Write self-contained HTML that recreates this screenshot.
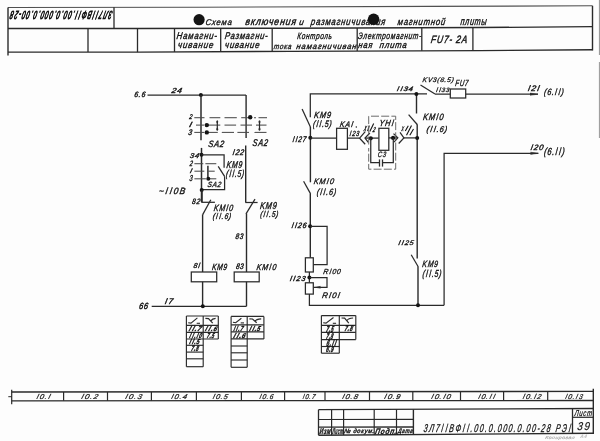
<!DOCTYPE html>
<html><head><meta charset="utf-8">
<style>
html,body{margin:0;padding:0;background:#fff;}
svg{display:block;will-change:transform;}
text{font-family:"Liberation Sans",sans-serif;}
</style></head>
<body>
<svg width="600" height="441" viewBox="0 0 600 441">
<rect width="600" height="441" fill="#fdfdfd"/>
<polyline points="8,7.5 200,7.2 430,6.4 592.5,5.8" fill="none" stroke="#505050" stroke-width="1.1" stroke-linejoin="miter" />
<polyline points="8,28.5 140,28.5 290,28.2 480,27.5 592.5,26.7" fill="none" stroke="#2a2a2a" stroke-width="1.35" stroke-linejoin="miter" />
<polyline points="8,52.1 140,52.1 290,51.4 480,50.6 592.5,49.8" fill="none" stroke="#2a2a2a" stroke-width="1.4" stroke-linejoin="miter" />
<line x1="8" y1="7.5" x2="8" y2="55.5" stroke="#2a2a2a" stroke-width="1.4" />
<line x1="592.5" y1="5.8" x2="592.5" y2="50.5" stroke="#2a2a2a" stroke-width="1.4" />
<line x1="114" y1="7.334375" x2="114" y2="28.5" stroke="#2a2a2a" stroke-width="1.3" />
<line x1="88" y1="28.5" x2="88" y2="52.1" stroke="#2a2a2a" stroke-width="1.3" />
<line x1="137.5" y1="28.5" x2="137.5" y2="52.1" stroke="#2a2a2a" stroke-width="1.3" />
<line x1="174.5" y1="28.431" x2="174.5" y2="51.939" stroke="#2a2a2a" stroke-width="1.3" />
<line x1="220.7" y1="28.3386" x2="220.7" y2="51.7234" stroke="#2a2a2a" stroke-width="1.3" />
<line x1="272.2" y1="28.235599999999998" x2="272.2" y2="51.483066666666666" stroke="#2a2a2a" stroke-width="1.3" />
<line x1="357.2" y1="27.95242105263158" x2="357.2" y2="51.11705263157895" stroke="#2a2a2a" stroke-width="1.3" />
<line x1="421.8" y1="27.71442105263158" x2="421.8" y2="50.845052631578945" stroke="#2a2a2a" stroke-width="1.3" />
<line x1="472.9" y1="27.52615789473684" x2="472.9" y2="50.629894736842104" stroke="#2a2a2a" stroke-width="1.3" />
<g transform="rotate(180 61.15 15.25) translate(9.20,19.42) scale(0.5980,1.1515) skewX(-25)"><text x="0" y="0" dx="0.00 0.00 0.00 0.70 1.40 0.70 0.00 0.70 1.40 0.70 0.00 0.00 0.00 0.00 0.00 0.00 0.00 0.00 0.00 0.00 0.00 0.00 0.00 0.00 0.00 0.00" font-size="10" font-weight="normal" font-style="italic" letter-spacing="1.8" fill="#111" stroke="#111" stroke-width="0.8">3Л7llВФll.00.0.000.0.00-28</text></g>
<circle cx="199.1" cy="19.7" r="5.6" fill="#141414"/>
<g transform="translate(205.22,24.79) scale(0.7731,0.8400) skewX(-10)"><text x="0" y="0"  font-size="10" font-weight="normal" font-style="italic" letter-spacing="1.0" fill="#111" stroke="#111" stroke-width="0.4">Схема</text></g>
<g transform="translate(245.00,25.24) scale(0.8800,1.0435) skewX(-10)"><text x="0" y="0"  font-size="10" font-weight="normal" font-style="italic" letter-spacing="1.0" fill="#111" stroke="#111" stroke-width="0.4">включения</text></g>
<g transform="translate(298.78,25.08) scale(0.8333,0.8696) skewX(-10)"><text x="0" y="0"  font-size="10" font-weight="normal" font-style="italic" letter-spacing="1.0" fill="#111" stroke="#111" stroke-width="0.4">и</text></g>
<g transform="translate(310.58,25.04) scale(0.7794,1.0065) skewX(-10)"><text x="0" y="0"  font-size="10" font-weight="normal" font-style="italic" letter-spacing="1.0" fill="#111" stroke="#111" stroke-width="0.4">размагничивания</text></g>
<circle cx="373.6" cy="19.3" r="5.8" fill="#141414"/>
<g transform="translate(397.30,24.56) scale(0.7760,0.9677) skewX(-10)"><text x="0" y="0"  font-size="10" font-weight="normal" font-style="italic" letter-spacing="1.0" fill="#111" stroke="#111" stroke-width="0.4">магнитной</text></g>
<g transform="translate(460.20,24.53) scale(0.7195,1.0957) skewX(-10)"><text x="0" y="0"  font-size="10" font-weight="normal" font-style="italic" letter-spacing="1.0" fill="#111" stroke="#111" stroke-width="0.4">плиты</text></g>
<g transform="translate(176.20,39.16) scale(0.7846,0.9793) skewX(-10)"><text x="0" y="0"  font-size="10" font-weight="normal" font-style="italic" letter-spacing="1.0" fill="#111" stroke="#111" stroke-width="0.4">Намагни-</text></g>
<g transform="translate(177.49,47.51) scale(0.8092,0.9478) skewX(-10)"><text x="0" y="0"  font-size="10" font-weight="normal" font-style="italic" letter-spacing="1.0" fill="#111" stroke="#111" stroke-width="0.4">чивание</text></g>
<g transform="translate(224.50,39.16) scale(0.7630,0.9793) skewX(-10)"><text x="0" y="0"  font-size="10" font-weight="normal" font-style="italic" letter-spacing="1.0" fill="#111" stroke="#111" stroke-width="0.4">Размагни-</text></g>
<g transform="translate(224.51,47.51) scale(0.7908,0.9478) skewX(-10)"><text x="0" y="0"  font-size="10" font-weight="normal" font-style="italic" letter-spacing="1.0" fill="#111" stroke="#111" stroke-width="0.4">чивание</text></g>
<g transform="translate(297.00,38.93) scale(0.6444,0.9189) skewX(-10)"><text x="0" y="0"  font-size="10" font-weight="normal" font-style="italic" letter-spacing="1.0" fill="#111" stroke="#111" stroke-width="0.4">Контроль</text></g>
<g transform="translate(273.50,48.80) scale(0.6545,0.7826) skewX(-10)"><text x="0" y="0"  font-size="10" font-weight="normal" font-style="italic" letter-spacing="1.0" fill="#111" stroke="#111" stroke-width="0.4">тока</text></g>
<g transform="translate(296.00,48.80) scale(0.7796,0.8174) skewX(-10)"><text x="0" y="0"  font-size="10" font-weight="normal" font-style="italic" letter-spacing="1.0" fill="#111" stroke="#111" stroke-width="0.4">намагничиван</text></g>
<g transform="translate(357.83,38.87) scale(0.6628,0.9474) skewX(-10)"><text x="0" y="0"  font-size="10" font-weight="normal" font-style="italic" letter-spacing="1.0" fill="#111" stroke="#111" stroke-width="0.4">Электромагнит-</text></g>
<g transform="translate(358.00,47.77) scale(0.7636,0.9217) skewX(-10)"><text x="0" y="0"  font-size="10" font-weight="normal" font-style="italic" letter-spacing="1.0" fill="#111" stroke="#111" stroke-width="0.4">ная</text></g>
<g transform="translate(379.30,47.77) scale(0.7885,0.9217) skewX(-10)"><text x="0" y="0"  font-size="10" font-weight="normal" font-style="italic" letter-spacing="1.0" fill="#111" stroke="#111" stroke-width="0.4">плита</text></g>
<g transform="translate(430.50,42.73) scale(0.8421,1.0667) skewX(-10)"><text x="0" y="0"  font-size="10" font-weight="normal" font-style="italic" letter-spacing="1.0" fill="#111" stroke="#111" stroke-width="0.4">FU7- 2A</text></g>
<line x1="147.5" y1="95" x2="246" y2="95" stroke="#2a2a2a" stroke-width="1.25" />
<circle cx="200.9" cy="95" r="2.0" fill="#141414"/>
<g transform="translate(133.98,96.61) scale(0.6970,0.7742) skewX(-10)"><text x="0" y="0"  font-size="10" font-weight="normal" font-style="italic" letter-spacing="1.0" fill="#111" stroke="#111" stroke-width="0.5">6.6</text></g>
<g transform="translate(171.21,92.82) scale(0.8519,0.7333) skewX(-10)"><text x="0" y="0"  font-size="10" font-weight="normal" font-style="italic" letter-spacing="1.0" fill="#111" stroke="#111" stroke-width="0.5">24</text></g>
<line x1="201" y1="95" x2="201" y2="140.3" stroke="#2a2a2a" stroke-width="1.5" />
<line x1="246.1" y1="95" x2="246.1" y2="138" stroke="#2a2a2a" stroke-width="1.4" />
<line x1="194.3" y1="117.7" x2="204.5" y2="117.7" stroke="#4a4a4a" stroke-width="1.05" />
<line x1="209.5" y1="117.7" x2="220.3" y2="117.7" stroke="#4a4a4a" stroke-width="1.05" />
<line x1="224.5" y1="117.7" x2="236.8" y2="117.7" stroke="#4a4a4a" stroke-width="1.05" />
<line x1="241.2" y1="117.7" x2="252" y2="117.7" stroke="#4a4a4a" stroke-width="1.05" />
<line x1="254" y1="117.7" x2="256" y2="117.7" stroke="#4a4a4a" stroke-width="1.05" />
<line x1="258.5" y1="117.7" x2="267" y2="117.7" stroke="#4a4a4a" stroke-width="1.05" />
<line x1="196" y1="125.1" x2="204.2" y2="125.1" stroke="#4a4a4a" stroke-width="1.05" />
<line x1="205" y1="125.1" x2="220.3" y2="125.1" stroke="#4a4a4a" stroke-width="1.05" />
<line x1="224.5" y1="125.1" x2="236.1" y2="125.1" stroke="#4a4a4a" stroke-width="1.05" />
<line x1="240.5" y1="125.1" x2="252" y2="125.1" stroke="#4a4a4a" stroke-width="1.05" />
<line x1="256" y1="125.1" x2="266.5" y2="125.1" stroke="#4a4a4a" stroke-width="1.05" />
<line x1="194.3" y1="132.4" x2="204.2" y2="132.4" stroke="#4a4a4a" stroke-width="1.05" />
<line x1="207" y1="132.4" x2="217.8" y2="132.4" stroke="#4a4a4a" stroke-width="1.05" />
<line x1="221.8" y1="132.4" x2="234" y2="132.4" stroke="#4a4a4a" stroke-width="1.05" />
<line x1="237.4" y1="132.4" x2="249" y2="132.4" stroke="#4a4a4a" stroke-width="1.05" />
<line x1="254.5" y1="132.4" x2="266.5" y2="132.4" stroke="#4a4a4a" stroke-width="1.05" />
<g transform="translate(188.94,119.33) scale(0.5630,0.6800) skewX(-10)"><text x="0" y="0"  font-size="10" font-weight="normal" font-style="italic" letter-spacing="1.0" fill="#111" stroke="#111" stroke-width="0.5">2</text></g>
<g transform="translate(188.32,126.52) scale(0.9647,0.7097) skewX(-10)"><text x="0" y="0" dx="0.70" font-size="10" font-weight="normal" font-style="italic" letter-spacing="1.0" fill="#111" stroke="#111" stroke-width="0.5">l</text></g>
<g transform="translate(188.03,135.30) scale(0.6769,0.8133) skewX(-10)"><text x="0" y="0"  font-size="10" font-weight="normal" font-style="italic" letter-spacing="1.0" fill="#111" stroke="#111" stroke-width="0.5">3</text></g>
<circle cx="206.8" cy="125.1" r="2.2" fill="#141414"/>
<circle cx="206.8" cy="132.4" r="2.2" fill="#141414"/>
<circle cx="250.2" cy="117.2" r="2.2" fill="#141414"/>
<line x1="217.3" y1="121" x2="217.3" y2="129.8" stroke="#2a2a2a" stroke-width="1.2" />
<ellipse cx="217.3" cy="121.8" rx="0.9" ry="1.6" fill="#2a2a2a"/>
<ellipse cx="217.3" cy="129.2" rx="0.9" ry="1.6" fill="#2a2a2a"/>
<line x1="259.5" y1="121" x2="259.5" y2="129.8" stroke="#2a2a2a" stroke-width="1.2" />
<ellipse cx="259.5" cy="121.8" rx="0.9" ry="1.6" fill="#2a2a2a"/>
<ellipse cx="259.5" cy="129.2" rx="0.9" ry="1.6" fill="#2a2a2a"/>
<g transform="translate(207.91,147.07) scale(0.7581,0.9200) skewX(-10)"><text x="0" y="0"  font-size="10" font-weight="normal" font-style="italic" letter-spacing="1.0" fill="#111" stroke="#111" stroke-width="0.4">SA2</text></g>
<g transform="translate(252.32,145.56) scale(0.7256,0.9733) skewX(-10)"><text x="0" y="0"  font-size="10" font-weight="normal" font-style="italic" letter-spacing="1.0" fill="#111" stroke="#111" stroke-width="0.4">SA2</text></g>
<g transform="translate(231.95,154.60) scale(0.7014,0.8129) skewX(-10)"><text x="0" y="0" dx="0.70 0.70 0.00" font-size="10" font-weight="normal" font-style="italic" letter-spacing="1.0" fill="#111" stroke="#111" stroke-width="0.5">l22</text></g>
<line x1="245.7" y1="145.4" x2="245.7" y2="202.5" stroke="#2a2a2a" stroke-width="1.4" />
<line x1="201.5" y1="147.9" x2="201.5" y2="202" stroke="#2a2a2a" stroke-width="1.5" />
<circle cx="201.5" cy="154.8" r="2.0" fill="#141414"/>
<g transform="translate(189.51,157.73) scale(0.7615,0.6933) skewX(-10)"><text x="0" y="0"  font-size="10" font-weight="normal" font-style="italic" letter-spacing="1.0" fill="#111" stroke="#111" stroke-width="0.5">34</text></g>
<polyline points="201.5,154.8 224.1,154.8 224.1,167.8" fill="none" stroke="#2a2a2a" stroke-width="1.25" stroke-linejoin="miter" />
<line x1="218.2" y1="166.3" x2="224.6" y2="176.4" stroke="#2a2a2a" stroke-width="1.25" />
<polyline points="224.6,176.2 224.6,189.6 201.5,189.6" fill="none" stroke="#2a2a2a" stroke-width="1.25" stroke-linejoin="miter" />
<circle cx="201.7" cy="189.9" r="2.0" fill="#141414"/>
<line x1="194.4" y1="163.7" x2="203.3" y2="163.7" stroke="#4a4a4a" stroke-width="1.05" />
<line x1="205.4" y1="163.7" x2="216.3" y2="163.7" stroke="#4a4a4a" stroke-width="1.05" />
<line x1="194.4" y1="171.2" x2="204.3" y2="171.2" stroke="#4a4a4a" stroke-width="1.05" />
<line x1="208.5" y1="171.2" x2="214.7" y2="171.2" stroke="#4a4a4a" stroke-width="1.05" />
<line x1="194.4" y1="178.8" x2="205.9" y2="178.8" stroke="#4a4a4a" stroke-width="1.05" />
<line x1="210" y1="178.8" x2="216.3" y2="178.8" stroke="#4a4a4a" stroke-width="1.05" />
<g transform="translate(189.44,166.41) scale(0.5481,0.7733) skewX(-10)"><text x="0" y="0"  font-size="10" font-weight="normal" font-style="italic" letter-spacing="1.0" fill="#111" stroke="#111" stroke-width="0.5">2</text></g>
<g transform="translate(189.20,172.84) scale(0.8000,0.6323) skewX(-10)"><text x="0" y="0" dx="0.70" font-size="10" font-weight="normal" font-style="italic" letter-spacing="1.0" fill="#111" stroke="#111" stroke-width="0.5">l</text></g>
<g transform="translate(189.16,181.29) scale(0.5692,0.8533) skewX(-10)"><text x="0" y="0"  font-size="10" font-weight="normal" font-style="italic" letter-spacing="1.0" fill="#111" stroke="#111" stroke-width="0.5">3</text></g>
<line x1="207.9" y1="165.7" x2="207.9" y2="178.8" stroke="#2a2a2a" stroke-width="1.5" />
<circle cx="208.3" cy="178.8" r="2.0" fill="#141414"/>
<g transform="translate(207.24,186.91) scale(0.6558,0.7600) skewX(-10)"><text x="0" y="0"  font-size="10" font-weight="normal" font-style="italic" letter-spacing="1.0" fill="#111" stroke="#111" stroke-width="0.4">SA2</text></g>
<g transform="translate(226.20,168.35) scale(0.6979,0.9867) skewX(-10)"><text x="0" y="0"  font-size="10" font-weight="normal" font-style="italic" letter-spacing="1.0" fill="#111" stroke="#111" stroke-width="0.4">KM9</text></g>
<g transform="translate(225.87,177.26) scale(0.6569,0.9949) skewX(-10)"><text x="0" y="0" dx="0.00 0.70 1.40 0.70 0.00 0.00" font-size="10" font-weight="normal" font-style="italic" letter-spacing="1.0" fill="#111" stroke="#111" stroke-width="0.4">(ll.5)</text></g>
<g transform="translate(158.57,193.77) scale(0.8352,0.9032) skewX(-10)"><text x="0" y="0" dx="0.00 0.70 1.40 0.70 0.00" font-size="10" font-weight="normal" font-style="italic" letter-spacing="1.5" fill="#111" stroke="#111" stroke-width="0.4">~ll0В</text></g>
<g transform="translate(191.84,204.11) scale(0.6538,0.7742) skewX(-10)"><text x="0" y="0"  font-size="10" font-weight="normal" font-style="italic" letter-spacing="1.0" fill="#111" stroke="#111" stroke-width="0.5">82</text></g>
<line x1="202" y1="189.9" x2="202" y2="202.3" stroke="#2a2a2a" stroke-width="1.5" />
<line x1="201.3" y1="202.3" x2="214.9" y2="202.3" stroke="#2a2a2a" stroke-width="1.25" />
<line x1="210.8" y1="199.7" x2="202.7" y2="214.6" stroke="#2a2a2a" stroke-width="1.25" />
<line x1="202.6" y1="214.4" x2="202.6" y2="306.3" stroke="#2a2a2a" stroke-width="1.4" />
<g transform="translate(213.50,211.07) scale(0.7115,0.9161) skewX(-10)"><text x="0" y="0" dx="0.00 0.00 0.70 0.70" font-size="10" font-weight="normal" font-style="italic" letter-spacing="1.0" fill="#111" stroke="#111" stroke-width="0.4">KMl0</text></g>
<g transform="translate(212.46,219.31) scale(0.6752,0.8410) skewX(-10)"><text x="0" y="0" dx="0.00 0.70 1.40 0.70 0.00 0.00" font-size="10" font-weight="normal" font-style="italic" letter-spacing="1.0" fill="#111" stroke="#111" stroke-width="0.4">(ll.6)</text></g>
<line x1="245.4" y1="202.5" x2="257.6" y2="202.5" stroke="#2a2a2a" stroke-width="1.25" />
<line x1="255" y1="199.1" x2="246" y2="213.8" stroke="#2a2a2a" stroke-width="1.25" />
<line x1="246.5" y1="213.6" x2="246.5" y2="306.3" stroke="#2a2a2a" stroke-width="1.4" />
<g transform="translate(259.70,208.65) scale(0.7404,1.0000) skewX(-10)"><text x="0" y="0"  font-size="10" font-weight="normal" font-style="italic" letter-spacing="1.0" fill="#111" stroke="#111" stroke-width="0.4">KM9</text></g>
<g transform="translate(259.97,217.48) scale(0.6606,0.8513) skewX(-10)"><text x="0" y="0" dx="0.00 0.70 1.40 0.70 0.00 0.00" font-size="10" font-weight="normal" font-style="italic" letter-spacing="1.0" fill="#111" stroke="#111" stroke-width="0.4">(ll.5)</text></g>
<g transform="translate(235.34,238.80) scale(0.6308,0.8000) skewX(-10)"><text x="0" y="0"  font-size="10" font-weight="normal" font-style="italic" letter-spacing="1.0" fill="#111" stroke="#111" stroke-width="0.5">83</text></g>
<rect x="191.3" y="272" width="25.399999999999977" height="9.800000000000011" fill="#fff" stroke="#2a2a2a" stroke-width="1.25" />
<rect x="234.2" y="272" width="25.0" height="9.800000000000011" fill="#fff" stroke="#2a2a2a" stroke-width="1.25" />
<g transform="translate(193.13,267.94) scale(0.6818,0.7250) skewX(-10)"><text x="0" y="0" dx="0.00 0.70" font-size="10" font-weight="normal" font-style="italic" letter-spacing="1.0" fill="#111" stroke="#111" stroke-width="0.5">8l</text></g>
<g transform="translate(211.70,269.78) scale(0.6723,0.8933) skewX(-10)"><text x="0" y="0"  font-size="10" font-weight="normal" font-style="italic" letter-spacing="1.0" fill="#111" stroke="#111" stroke-width="0.4">KM9</text></g>
<g transform="translate(235.64,268.80) scale(0.6462,0.8000) skewX(-10)"><text x="0" y="0"  font-size="10" font-weight="normal" font-style="italic" letter-spacing="1.0" fill="#111" stroke="#111" stroke-width="0.5">83</text></g>
<g transform="translate(256.30,269.78) scale(0.7221,0.8645) skewX(-10)"><text x="0" y="0" dx="0.00 0.00 0.70 0.70" font-size="10" font-weight="normal" font-style="italic" letter-spacing="1.0" fill="#111" stroke="#111" stroke-width="0.4">KMl0</text></g>
<line x1="151.7" y1="306.3" x2="246.5" y2="306.3" stroke="#2a2a2a" stroke-width="1.25" />
<circle cx="202.8" cy="306.3" r="2.0" fill="#141414"/>
<g transform="translate(138.64,309.25) scale(0.7490,0.8903) skewX(-10)"><text x="0" y="0"  font-size="10" font-weight="normal" font-style="italic" letter-spacing="1.0" fill="#111" stroke="#111" stroke-width="0.5">66</text></g>
<g transform="translate(164.18,303.60) scale(0.8348,0.8000) skewX(-10)"><text x="0" y="0" dx="0.70 0.70" font-size="10" font-weight="normal" font-style="italic" letter-spacing="1.0" fill="#111" stroke="#111" stroke-width="0.5">l7</text></g>
<line x1="186.4" y1="316.0" x2="218.3" y2="316.0" stroke="#2a2a2a" stroke-width="1.15" />
<line x1="186.4" y1="316.0" x2="186.4" y2="366.7" stroke="#2a2a2a" stroke-width="1.15" />
<line x1="203.2" y1="316.0" x2="203.2" y2="366.7" stroke="#2a2a2a" stroke-width="1.15" />
<line x1="218.3" y1="316.0" x2="218.3" y2="339" stroke="#2a2a2a" stroke-width="1.15" />
<line x1="186.4" y1="325.3" x2="218.3" y2="325.3" stroke="#2a2a2a" stroke-width="1.15" />
<line x1="186.4" y1="332.3" x2="218.3" y2="332.3" stroke="#2a2a2a" stroke-width="1.15" />
<line x1="186.4" y1="339" x2="218.3" y2="339" stroke="#2a2a2a" stroke-width="1.15" />
<line x1="186.4" y1="345.3" x2="203.2" y2="345.3" stroke="#2a2a2a" stroke-width="1.15" />
<line x1="186.4" y1="352.1" x2="203.2" y2="352.1" stroke="#2a2a2a" stroke-width="1.15" />
<line x1="186.4" y1="358.8" x2="203.2" y2="358.8" stroke="#2a2a2a" stroke-width="1.15" />
<line x1="186.4" y1="366.7" x2="203.2" y2="366.7" stroke="#2a2a2a" stroke-width="1.15" />
<polyline points="188.20000000000002,322.7 191.0,323.1 197.39999999999998,317.9" fill="none" stroke="#2a2a2a" stroke-width="1.15" stroke-linejoin="miter" />
<line x1="196.7" y1="323.3" x2="200.0" y2="323.3" stroke="#2a2a2a" stroke-width="1.1" />
<path d="M205.39999999999998,318.4 L208.5,318.6 L212.7,323.2 M210.89999999999998,320.9 Q212.2,318.6 215.60000000000002,318.4" fill="none" stroke="#2a2a2a" stroke-width="1.2"/>
<g transform="translate(187.98,331.13) scale(0.6330,0.6839) skewX(-22)"><text x="0" y="0" dx="0.70 1.40 0.70 0.00" font-size="10" font-weight="bold" font-style="italic" letter-spacing="1.0" fill="#111" stroke="#111" stroke-width="0.55">ll.7</text></g>
<g transform="translate(204.40,330.97) scale(0.6069,0.6625) skewX(-22)"><text x="0" y="0" dx="0.70 1.40 0.70 0.00" font-size="10" font-weight="bold" font-style="italic" letter-spacing="1.0" fill="#111" stroke="#111" stroke-width="0.55">ll.6</text></g>
<g transform="translate(188.64,337.92) scale(0.5159,0.7226) skewX(-22)"><text x="0" y="0" dx="0.70 1.40 0.70 0.70 0.70" font-size="10" font-weight="bold" font-style="italic" letter-spacing="1.0" fill="#111" stroke="#111" stroke-width="0.55">ll.l0</text></g>
<g transform="translate(206.47,337.91) scale(0.4595,0.7467) skewX(-22)"><text x="0" y="0"  font-size="10" font-weight="bold" font-style="italic" letter-spacing="1.0" fill="#111" stroke="#111" stroke-width="0.55">7.5</text></g>
<g transform="translate(188.64,344.44) scale(0.5289,0.7125) skewX(-22)"><text x="0" y="0" dx="0.70 1.40 0.70 0.00" font-size="10" font-weight="bold" font-style="italic" letter-spacing="1.0" fill="#111" stroke="#111" stroke-width="0.55">ll.5</text></g>
<g transform="translate(190.66,350.81) scale(0.4722,0.7871) skewX(-22)"><text x="0" y="0"  font-size="10" font-weight="bold" font-style="italic" letter-spacing="1.0" fill="#111" stroke="#111" stroke-width="0.55">7.8</text></g>
<line x1="231.1" y1="316.4" x2="263.9" y2="316.4" stroke="#2a2a2a" stroke-width="1.15" />
<line x1="231.1" y1="316.4" x2="231.1" y2="367.3" stroke="#2a2a2a" stroke-width="1.15" />
<line x1="247.2" y1="316.4" x2="247.2" y2="367.3" stroke="#2a2a2a" stroke-width="1.15" />
<line x1="263.9" y1="316.4" x2="263.9" y2="338.9" stroke="#2a2a2a" stroke-width="1.15" />
<line x1="231.1" y1="324.9" x2="263.9" y2="324.9" stroke="#2a2a2a" stroke-width="1.15" />
<line x1="231.1" y1="331.8" x2="263.9" y2="331.8" stroke="#2a2a2a" stroke-width="1.15" />
<line x1="231.1" y1="338.9" x2="263.9" y2="338.9" stroke="#2a2a2a" stroke-width="1.15" />
<line x1="231.1" y1="346" x2="247.2" y2="346" stroke="#2a2a2a" stroke-width="1.15" />
<line x1="231.1" y1="352.8" x2="247.2" y2="352.8" stroke="#2a2a2a" stroke-width="1.15" />
<line x1="231.1" y1="360" x2="247.2" y2="360" stroke="#2a2a2a" stroke-width="1.15" />
<line x1="231.1" y1="367.3" x2="247.2" y2="367.3" stroke="#2a2a2a" stroke-width="1.15" />
<polyline points="232.9,322.29999999999995 235.7,322.7 241.39999999999998,318.29999999999995" fill="none" stroke="#2a2a2a" stroke-width="1.15" stroke-linejoin="miter" />
<line x1="240.7" y1="322.9" x2="244.0" y2="322.9" stroke="#2a2a2a" stroke-width="1.1" />
<path d="M249.39999999999998,318.79999999999995 L252.5,319.0 L256.7,322.79999999999995 M254.89999999999998,321.29999999999995 Q256.2,319.0 261.2,318.79999999999995" fill="none" stroke="#2a2a2a" stroke-width="1.2"/>
<g transform="translate(232.95,331.22) scale(0.4967,0.7355) skewX(-22)"><text x="0" y="0" dx="0.70 1.40 0.70 0.00" font-size="10" font-weight="bold" font-style="italic" letter-spacing="1.0" fill="#111" stroke="#111" stroke-width="0.55">ll.7</text></g>
<g transform="translate(248.62,331.04) scale(0.5644,0.7125) skewX(-22)"><text x="0" y="0" dx="0.70 1.40 0.70 0.00" font-size="10" font-weight="bold" font-style="italic" letter-spacing="1.0" fill="#111" stroke="#111" stroke-width="0.55">ll.5</text></g>
<g transform="translate(232.59,338.15) scale(0.6161,0.7000) skewX(-22)"><text x="0" y="0" dx="0.70 1.40 0.70 0.00" font-size="10" font-weight="bold" font-style="italic" letter-spacing="1.0" fill="#111" stroke="#111" stroke-width="0.55">ll.6</text></g>
<line x1="321.4" y1="315.6" x2="355.8" y2="315.6" stroke="#2a2a2a" stroke-width="1.15" />
<line x1="321.4" y1="315.6" x2="321.4" y2="353.2" stroke="#2a2a2a" stroke-width="1.15" />
<line x1="339.3" y1="315.6" x2="339.3" y2="353.2" stroke="#2a2a2a" stroke-width="1.15" />
<line x1="355.8" y1="315.6" x2="355.8" y2="339.6" stroke="#2a2a2a" stroke-width="1.15" />
<line x1="321.4" y1="325.3" x2="355.8" y2="325.3" stroke="#2a2a2a" stroke-width="1.15" />
<line x1="321.4" y1="332.4" x2="355.8" y2="332.4" stroke="#2a2a2a" stroke-width="1.15" />
<line x1="321.4" y1="339.6" x2="355.8" y2="339.6" stroke="#2a2a2a" stroke-width="1.15" />
<line x1="321.4" y1="346.5" x2="339.3" y2="346.5" stroke="#2a2a2a" stroke-width="1.15" />
<line x1="321.4" y1="353.2" x2="339.3" y2="353.2" stroke="#2a2a2a" stroke-width="1.15" />
<polyline points="323.2,322.7 326.0,323.1 333.5,317.5" fill="none" stroke="#2a2a2a" stroke-width="1.15" stroke-linejoin="miter" />
<line x1="332.8" y1="323.3" x2="336.1" y2="323.3" stroke="#2a2a2a" stroke-width="1.1" />
<path d="M341.5,318.0 L344.6,318.20000000000005 L348.8,323.2 M347.0,320.5 Q348.3,318.20000000000005 353.1,318.0" fill="none" stroke="#2a2a2a" stroke-width="1.2"/>
<g transform="translate(325.77,331.69) scale(0.4595,0.8533) skewX(-22)"><text x="0" y="0"  font-size="10" font-weight="bold" font-style="italic" letter-spacing="1.0" fill="#111" stroke="#111" stroke-width="0.55">7.5</text></g>
<g transform="translate(344.25,331.49) scale(0.5000,0.8258) skewX(-22)"><text x="0" y="0"  font-size="10" font-weight="bold" font-style="italic" letter-spacing="1.0" fill="#111" stroke="#111" stroke-width="0.55">7.8</text></g>
<g transform="translate(325.78,338.99) scale(0.4444,0.8258) skewX(-22)"><text x="0" y="0"  font-size="10" font-weight="bold" font-style="italic" letter-spacing="1.0" fill="#111" stroke="#111" stroke-width="0.55">7.8</text></g>
<g transform="translate(326.12,346.47) scale(0.5057,0.8625) skewX(-22)"><text x="0" y="0" dx="0.00 0.00 0.70 1.40" font-size="10" font-weight="bold" font-style="italic" letter-spacing="1.0" fill="#111" stroke="#111" stroke-width="0.55">6.ll</text></g>
<g transform="translate(325.66,352.49) scale(0.4571,0.8258) skewX(-22)"><text x="0" y="0"  font-size="10" font-weight="bold" font-style="italic" letter-spacing="1.0" fill="#111" stroke="#111" stroke-width="0.55">6.9</text></g>
<polyline points="310.3,117.3 310.3,93.9 427,93.9" fill="none" stroke="#2a2a2a" stroke-width="1.25" stroke-linejoin="miter" />
<line x1="302.1" y1="109" x2="310.4" y2="127" stroke="#2a2a2a" stroke-width="1.25" />
<line x1="310.4" y1="126.8" x2="310.4" y2="182.3" stroke="#2a2a2a" stroke-width="1.4" />
<circle cx="310.3" cy="137.8" r="2.0" fill="#141414"/>
<g transform="translate(291.98,142.10) scale(0.6462,0.8129) skewX(-10)"><text x="0" y="0" dx="0.70 1.40 0.70 0.00" font-size="10" font-weight="normal" font-style="italic" letter-spacing="1.0" fill="#111" stroke="#111" stroke-width="0.5">ll27</text></g>
<g transform="translate(313.80,117.68) scale(0.7404,0.8933) skewX(-10)"><text x="0" y="0"  font-size="10" font-weight="normal" font-style="italic" letter-spacing="1.0" fill="#111" stroke="#111" stroke-width="0.4">KM9</text></g>
<g transform="translate(312.76,126.98) scale(0.6826,0.9436) skewX(-10)"><text x="0" y="0" dx="0.00 0.70 1.40 0.70 0.00 0.00" font-size="10" font-weight="normal" font-style="italic" letter-spacing="1.0" fill="#111" stroke="#111" stroke-width="0.4">(ll.5)</text></g>
<line x1="310.3" y1="138.1" x2="359.6" y2="138.1" stroke="#2a2a2a" stroke-width="1.25" />
<rect x="336.6" y="128.3" width="10.799999999999955" height="21.0" fill="#fff" stroke="#2a2a2a" stroke-width="1.25" />
<g transform="translate(339.50,126.50) scale(0.7150,0.8129) skewX(-10)"><text x="0" y="0" dx="0.00 0.00 0.70" font-size="10" font-weight="normal" font-style="italic" letter-spacing="1.0" fill="#111" stroke="#111" stroke-width="0.4">KAl</text></g>
<circle cx="356.3" cy="127" r="0.7" fill="#141414"/>
<g transform="translate(349.21,135.93) scale(0.5797,0.7375) skewX(-10)"><text x="0" y="0" dx="0.70 0.70 0.00" font-size="10" font-weight="normal" font-style="italic" letter-spacing="1.0" fill="#111" stroke="#111" stroke-width="0.5">l23</text></g>
<polyline points="365.2,131.6 359.6,138.2 365.2,144.2" fill="none" stroke="#2a2a2a" stroke-width="1.25" stroke-linejoin="miter" />
<polyline points="369.9,133 365,138.1 368.3,142.3" fill="none" stroke="#2a2a2a" stroke-width="1.25" stroke-linejoin="miter" />
<line x1="365" y1="138.1" x2="378.8" y2="138.1" stroke="#2a2a2a" stroke-width="1.25" />
<circle cx="370.75" cy="138.3" r="2.1" fill="#141414"/>
<g transform="translate(363.59,130.91) scale(0.3822,0.7467) skewX(-22)"><text x="0" y="0"  font-size="10" font-weight="normal" font-style="italic" letter-spacing="1.0" fill="#111" stroke="#111" stroke-width="0.6">X</text></g>
<line x1="369.3" y1="125.5" x2="367.6" y2="131.1" stroke="#111" stroke-width="1.1" />
<line x1="373.7" y1="123.5" x2="369.8" y2="131.6" stroke="#111" stroke-width="1.1" />
<g transform="translate(372.62,132.32) scale(0.4364,0.7067) skewX(-20)"><text x="0" y="0"  font-size="10" font-weight="normal" font-style="italic" letter-spacing="1.0" fill="#111" stroke="#111" stroke-width="0.6">2</text></g>
<rect x="378.9" y="128.3" width="9.900000000000034" height="22.0" fill="#fff" stroke="#2a2a2a" stroke-width="1.25" />
<g transform="translate(379.11,125.98) scale(0.7459,0.8903) skewX(-10)"><text x="0" y="0" dx="0.00 0.00 0.70" font-size="10" font-weight="normal" font-style="italic" letter-spacing="1.0" fill="#111" stroke="#111" stroke-width="0.4">YHl</text></g>
<line x1="388.8" y1="137.9" x2="397.8" y2="137.9" stroke="#2a2a2a" stroke-width="1.25" />
<circle cx="393.1" cy="137.9" r="2.1" fill="#141414"/>
<polyline points="393.5,133.6 397.8,137.9 394,142.2" fill="none" stroke="#2a2a2a" stroke-width="1.25" stroke-linejoin="miter" />
<polyline points="400,132.3 403.9,137.9 398.7,143.5" fill="none" stroke="#2a2a2a" stroke-width="1.25" stroke-linejoin="miter" />
<line x1="403.9" y1="137.9" x2="417.2" y2="137.9" stroke="#2a2a2a" stroke-width="1.25" />
<g transform="translate(401.24,130.83) scale(0.3200,0.6667) skewX(-22)"><text x="0" y="0"  font-size="10" font-weight="normal" font-style="italic" letter-spacing="1.0" fill="#111" stroke="#111" stroke-width="0.6">X</text></g>
<line x1="408.3" y1="125.7" x2="405.3" y2="131" stroke="#111" stroke-width="1.1" />
<line x1="411.5" y1="125.5" x2="406.5" y2="135.3" stroke="#111" stroke-width="1.1" />
<line x1="413.5" y1="129" x2="409.8" y2="135.3" stroke="#111" stroke-width="1.1" />
<polyline points="370.75,138.3 370.75,162.5 379.5,162.5" fill="none" stroke="#2a2a2a" stroke-width="1.25" stroke-linejoin="miter" />
<polyline points="393.3,137.9 393.3,162.5 382.5,162.5" fill="none" stroke="#2a2a2a" stroke-width="1.25" stroke-linejoin="miter" />
<line x1="379.5" y1="159.4" x2="379.5" y2="166.6" stroke="#2a2a2a" stroke-width="1.3" />
<line x1="382.5" y1="159.4" x2="382.5" y2="166.6" stroke="#2a2a2a" stroke-width="1.3" />
<g transform="translate(377.56,157.41) scale(0.5929,0.7733) skewX(-10)"><text x="0" y="0"  font-size="10" font-weight="normal" font-style="italic" letter-spacing="1.0" fill="#111" stroke="#111" stroke-width="0.4">C3</text></g>
<polyline points="368.7,144.5 368.7,116.2 395.7,116.2 395.7,169.2 368.7,169.2 368.7,148" fill="none" stroke="#6a6a6a" stroke-width="1.0" stroke-linejoin="miter" stroke-dasharray="8,2.2"/>
<line x1="416.5" y1="93.9" x2="416.5" y2="113.5" stroke="#2a2a2a" stroke-width="1.4" />
<circle cx="416.4" cy="94" r="2.0" fill="#141414"/>
<line x1="408.6" y1="114.6" x2="417.2" y2="124.5" stroke="#2a2a2a" stroke-width="1.25" />
<line x1="417.2" y1="124.3" x2="417.2" y2="258.4" stroke="#2a2a2a" stroke-width="1.4" />
<circle cx="417.2" cy="137.9" r="2.0" fill="#141414"/>
<g transform="translate(422.80,119.87) scale(0.7504,0.9032) skewX(-10)"><text x="0" y="0" dx="0.00 0.00 0.70 0.70" font-size="10" font-weight="normal" font-style="italic" letter-spacing="1.0" fill="#111" stroke="#111" stroke-width="0.4">KMl0</text></g>
<g transform="translate(426.22,131.81) scale(0.7560,0.8410) skewX(-10)"><text x="0" y="0" dx="0.00 0.70 1.40 0.70 0.00 0.00" font-size="10" font-weight="normal" font-style="italic" letter-spacing="1.0" fill="#111" stroke="#111" stroke-width="0.4">(ll.6)</text></g>
<line x1="420.5" y1="85" x2="435" y2="94" stroke="#2a2a2a" stroke-width="1.25" />
<line x1="435" y1="94.1" x2="538" y2="94.1" stroke="#2a2a2a" stroke-width="1.25" />
<rect x="450.3" y="89" width="15.399999999999977" height="9" fill="#fff" stroke="#2a2a2a" stroke-width="1.25" />
<polyline points="530,93.1 538,94.2 530,95.3" fill="#2a2a2a" stroke="#2a2a2a" stroke-width="0.5" stroke-linejoin="miter" />
<g transform="translate(396.11,91.34) scale(0.7727,0.6452) skewX(-10)"><text x="0" y="0" dx="0.70 1.40 0.70 0.00" font-size="10" font-weight="normal" font-style="italic" letter-spacing="1.0" fill="#111" stroke="#111" stroke-width="0.5">ll34</text></g>
<g transform="translate(422.30,82.22) scale(0.6717,0.6564) skewX(-10)"><text x="0" y="0"  font-size="10" font-weight="normal" font-style="italic" letter-spacing="1.0" fill="#111" stroke="#111" stroke-width="0.4">KV3(8.5)</text></g>
<g transform="translate(435.69,91.69) scale(0.6136,0.6250) skewX(-10)"><text x="0" y="0" dx="0.70 1.40 0.70 0.00" font-size="10" font-weight="normal" font-style="italic" letter-spacing="1.0" fill="#111" stroke="#111" stroke-width="0.5">ll33</text></g>
<g transform="translate(455.00,86.48) scale(0.6222,0.8828) skewX(-10)"><text x="0" y="0"  font-size="10" font-weight="normal" font-style="italic" letter-spacing="1.0" fill="#111" stroke="#111" stroke-width="0.4">FU7</text></g>
<g transform="translate(527.08,90.60) scale(0.8323,0.8000) skewX(-10)"><text x="0" y="0" dx="0.70 0.70 0.70" font-size="10" font-weight="normal" font-style="italic" letter-spacing="1.0" fill="#111" stroke="#111" stroke-width="0.5">l2l</text></g>
<g transform="translate(543.84,94.67) scale(0.7174,0.9026) skewX(-10)"><text x="0" y="0" dx="0.00 0.00 0.00 0.70 1.40 0.70" font-size="10" font-weight="normal" font-style="italic" letter-spacing="1.0" fill="#111" stroke="#111" stroke-width="0.4">(6.ll)</text></g>
<polyline points="444.1,305.3 444.1,153.3 538.3,153.3" fill="none" stroke="#2a2a2a" stroke-width="1.25" stroke-linejoin="miter" />
<polyline points="530.5,152.2 538.3,153.3 530.5,154.4" fill="#2a2a2a" stroke="#2a2a2a" stroke-width="0.5" stroke-linejoin="miter" />
<g transform="translate(530.01,150.01) scale(0.7739,0.7750) skewX(-10)"><text x="0" y="0" dx="0.70 0.70 0.00" font-size="10" font-weight="normal" font-style="italic" letter-spacing="1.0" fill="#111" stroke="#111" stroke-width="0.5">l20</text></g>
<g transform="translate(543.83,154.79) scale(0.7486,1.0256) skewX(-10)"><text x="0" y="0" dx="0.00 0.00 0.00 0.70 1.40 0.70" font-size="10" font-weight="normal" font-style="italic" letter-spacing="1.0" fill="#111" stroke="#111" stroke-width="0.4">(6.ll)</text></g>
<line x1="303.6" y1="181.3" x2="310.6" y2="193.9" stroke="#2a2a2a" stroke-width="1.25" />
<line x1="310.3" y1="193.7" x2="310.3" y2="257.8" stroke="#2a2a2a" stroke-width="1.4" />
<g transform="translate(313.40,183.90) scale(0.7434,0.8129) skewX(-10)"><text x="0" y="0" dx="0.00 0.00 0.70 0.70" font-size="10" font-weight="normal" font-style="italic" letter-spacing="1.0" fill="#111" stroke="#111" stroke-width="0.4">KMl0</text></g>
<g transform="translate(316.55,195.37) scale(0.7046,0.9026) skewX(-10)"><text x="0" y="0" dx="0.00 0.70 1.40 0.70 0.00 0.00" font-size="10" font-weight="normal" font-style="italic" letter-spacing="1.0" fill="#111" stroke="#111" stroke-width="0.4">(ll.6)</text></g>
<circle cx="310.1" cy="226.3" r="2.0" fill="#141414"/>
<g transform="translate(290.89,228.41) scale(0.7124,0.7750) skewX(-10)"><text x="0" y="0" dx="0.70 1.40 0.70 0.00" font-size="10" font-weight="normal" font-style="italic" letter-spacing="1.0" fill="#111" stroke="#111" stroke-width="0.5">ll26</text></g>
<polyline points="310.1,226.3 327.1,226.3 327.1,264.6 313.3,264.6" fill="none" stroke="#2a2a2a" stroke-width="1.25" stroke-linejoin="miter" />
<rect x="305.4" y="257.8" width="7.900000000000034" height="14.199999999999989" fill="#fff" stroke="#2a2a2a" stroke-width="1.25" />
<line x1="309.4" y1="272" x2="309.4" y2="282.8" stroke="#2a2a2a" stroke-width="1.25" />
<circle cx="309.4" cy="277.5" r="2.0" fill="#141414"/>
<g transform="translate(289.12,280.74) scale(0.7500,0.7125) skewX(-10)"><text x="0" y="0" dx="0.70 1.40 0.70 0.00" font-size="10" font-weight="normal" font-style="italic" letter-spacing="1.0" fill="#111" stroke="#111" stroke-width="0.5">ll23</text></g>
<polyline points="309.4,277.7 327,277.7 327,287.3 313.3,287.3" fill="none" stroke="#2a2a2a" stroke-width="1.25" stroke-linejoin="miter" />
<rect x="305.4" y="282.8" width="7.900000000000034" height="11.300000000000011" fill="#fff" stroke="#2a2a2a" stroke-width="1.25" />
<polyline points="309.4,294.1 309.4,305.3 444.1,305.3" fill="none" stroke="#2a2a2a" stroke-width="1.25" stroke-linejoin="miter" />
<polyline points="320.5,286.3 315.5,287.3 320.5,288.3" fill="#2a2a2a" stroke="#2a2a2a" stroke-width="0.5" stroke-linejoin="miter" />
<g transform="translate(323.00,273.52) scale(0.6962,0.7355) skewX(-10)"><text x="0" y="0" dx="0.00 0.70 0.70 0.00" font-size="10" font-weight="normal" font-style="italic" letter-spacing="1.0" fill="#111" stroke="#111" stroke-width="0.4">Rl00</text></g>
<g transform="translate(321.80,298.40) scale(0.7833,0.8000) skewX(-10)"><text x="0" y="0" dx="0.00 0.70 0.70 0.70" font-size="10" font-weight="normal" font-style="italic" letter-spacing="1.0" fill="#111" stroke="#111" stroke-width="0.4">Rl0l</text></g>
<line x1="411.2" y1="254.8" x2="418.2" y2="266.8" stroke="#2a2a2a" stroke-width="1.25" />
<line x1="418" y1="266.6" x2="418" y2="305.3" stroke="#2a2a2a" stroke-width="1.4" />
<circle cx="418" cy="305.3" r="2.0" fill="#141414"/>
<g transform="translate(397.74,245.23) scale(0.7281,0.6710) skewX(-10)"><text x="0" y="0" dx="0.70 1.40 0.70 0.00" font-size="10" font-weight="normal" font-style="italic" letter-spacing="1.0" fill="#111" stroke="#111" stroke-width="0.5">ll25</text></g>
<g transform="translate(422.10,267.07) scale(0.6894,0.9067) skewX(-10)"><text x="0" y="0"  font-size="10" font-weight="normal" font-style="italic" letter-spacing="1.0" fill="#111" stroke="#111" stroke-width="0.4">KM9</text></g>
<g transform="translate(422.36,277.02) scale(0.6899,1.0154) skewX(-10)"><text x="0" y="0" dx="0.00 0.70 1.40 0.70 0.00 0.00" font-size="10" font-weight="normal" font-style="italic" letter-spacing="1.0" fill="#111" stroke="#111" stroke-width="0.4">(ll.5)</text></g>
<line x1="11.7" y1="392" x2="593.3" y2="391.4" stroke="#2a2a2a" stroke-width="1.3" />
<line x1="11.7" y1="400.8" x2="593.3" y2="400.5" stroke="#2a2a2a" stroke-width="1.3" />
<line x1="11.7" y1="389.7" x2="11.7" y2="404.3" stroke="#2a2a2a" stroke-width="1.2" />
<line x1="8.3" y1="396.7" x2="11.7" y2="396.7" stroke="#2a2a2a" stroke-width="1.0" />
<line x1="63.6" y1="392" x2="63.6" y2="400.8" stroke="#2a2a2a" stroke-width="1.2" />
<line x1="107.5" y1="392" x2="107.5" y2="400.8" stroke="#2a2a2a" stroke-width="1.2" />
<line x1="151.4" y1="392" x2="151.4" y2="400.8" stroke="#2a2a2a" stroke-width="1.2" />
<line x1="196.4" y1="392" x2="196.4" y2="400.8" stroke="#2a2a2a" stroke-width="1.2" />
<line x1="241.4" y1="392" x2="241.4" y2="400.8" stroke="#2a2a2a" stroke-width="1.2" />
<line x1="284.6" y1="392" x2="284.6" y2="400.8" stroke="#2a2a2a" stroke-width="1.2" />
<line x1="325" y1="392" x2="325" y2="400.8" stroke="#2a2a2a" stroke-width="1.2" />
<line x1="369.5" y1="392" x2="369.5" y2="400.8" stroke="#2a2a2a" stroke-width="1.2" />
<line x1="412.8" y1="392" x2="412.8" y2="400.8" stroke="#2a2a2a" stroke-width="1.2" />
<line x1="460.5" y1="392" x2="460.5" y2="400.8" stroke="#2a2a2a" stroke-width="1.2" />
<line x1="503.6" y1="392" x2="503.6" y2="400.8" stroke="#2a2a2a" stroke-width="1.2" />
<line x1="547.7" y1="392" x2="547.7" y2="400.8" stroke="#2a2a2a" stroke-width="1.2" />
<g transform="translate(35.63,399.12) scale(0.7646,0.7097) skewX(-14)"><text x="0" y="0" dx="0.70 0.70 0.00 0.70" font-size="10" font-weight="normal" font-style="italic" letter-spacing="1.2" fill="#111" stroke="#111" stroke-width="0.3">l0.l</text></g>
<g transform="translate(80.39,399.12) scale(0.8184,0.7097) skewX(-14)"><text x="0" y="0" dx="0.70 0.70 0.00 0.00" font-size="10" font-weight="normal" font-style="italic" letter-spacing="1.2" fill="#111" stroke="#111" stroke-width="0.3">l0.2</text></g>
<g transform="translate(124.40,399.12) scale(0.8046,0.7097) skewX(-14)"><text x="0" y="0" dx="0.70 0.70 0.00 0.00" font-size="10" font-weight="normal" font-style="italic" letter-spacing="1.2" fill="#111" stroke="#111" stroke-width="0.3">l0.3</text></g>
<g transform="translate(170.43,399.12) scale(0.7586,0.7097) skewX(-14)"><text x="0" y="0" dx="0.70 0.70 0.00 0.00" font-size="10" font-weight="normal" font-style="italic" letter-spacing="1.2" fill="#111" stroke="#111" stroke-width="0.3">l0.4</text></g>
<g transform="translate(211.95,399.12) scale(0.7326,0.7097) skewX(-14)"><text x="0" y="0" dx="0.70 0.70 0.00 0.00" font-size="10" font-weight="normal" font-style="italic" letter-spacing="1.2" fill="#111" stroke="#111" stroke-width="0.3">l0.5</text></g>
<g transform="translate(258.90,399.12) scale(0.6636,0.7097) skewX(-14)"><text x="0" y="0" dx="0.70 0.70 0.00 0.00" font-size="10" font-weight="normal" font-style="italic" letter-spacing="1.2" fill="#111" stroke="#111" stroke-width="0.3">l0.6</text></g>
<g transform="translate(302.04,399.12) scale(0.6089,0.7097) skewX(-14)"><text x="0" y="0" dx="0.70 0.70 0.00 0.00" font-size="10" font-weight="normal" font-style="italic" letter-spacing="1.2" fill="#111" stroke="#111" stroke-width="0.3">l0.7</text></g>
<g transform="translate(341.43,399.12) scale(0.7586,0.7097) skewX(-14)"><text x="0" y="0" dx="0.70 0.70 0.00 0.00" font-size="10" font-weight="normal" font-style="italic" letter-spacing="1.2" fill="#111" stroke="#111" stroke-width="0.3">l0.8</text></g>
<g transform="translate(383.42,399.12) scale(0.7767,0.7097) skewX(-14)"><text x="0" y="0" dx="0.70 0.70 0.00 0.00" font-size="10" font-weight="normal" font-style="italic" letter-spacing="1.2" fill="#111" stroke="#111" stroke-width="0.3">l0.9</text></g>
<g transform="translate(430.43,399.12) scale(0.7660,0.7097) skewX(-14)"><text x="0" y="0" dx="0.70 0.70 0.00 0.70 0.70" font-size="10" font-weight="normal" font-style="italic" letter-spacing="1.2" fill="#111" stroke="#111" stroke-width="0.3">l0.l0</text></g>
<g transform="translate(477.45,399.12) scale(0.7273,0.7097) skewX(-14)"><text x="0" y="0" dx="0.70 0.70 0.00 0.70 1.40" font-size="10" font-weight="normal" font-style="italic" letter-spacing="1.2" fill="#111" stroke="#111" stroke-width="0.3">l0.ll</text></g>
<g transform="translate(521.96,399.12) scale(0.7245,0.7097) skewX(-14)"><text x="0" y="0" dx="0.70 0.70 0.00 0.70 0.70" font-size="10" font-weight="normal" font-style="italic" letter-spacing="1.2" fill="#111" stroke="#111" stroke-width="0.3">l0.l2</text></g>
<g transform="translate(564.49,399.12) scale(0.6841,0.7097) skewX(-14)"><text x="0" y="0" dx="0.70 0.70 0.00 0.70 0.70" font-size="10" font-weight="normal" font-style="italic" letter-spacing="1.2" fill="#111" stroke="#111" stroke-width="0.3">l0.l3</text></g>
<line x1="593.3" y1="388.8" x2="593.3" y2="434" stroke="#2a2a2a" stroke-width="1.4" />
<line x1="318.5" y1="409.7" x2="593.3" y2="408.5" stroke="#2a2a2a" stroke-width="1.3" />
<line x1="318.5" y1="435.2" x2="593.3" y2="433.3" stroke="#2a2a2a" stroke-width="1.4" />
<line x1="318.5" y1="409.7" x2="318.5" y2="435.2" stroke="#2a2a2a" stroke-width="1.3" />
<line x1="331.6" y1="409.6" x2="331.6" y2="435" stroke="#2a2a2a" stroke-width="1.2" />
<line x1="343.6" y1="409.6" x2="343.6" y2="435" stroke="#2a2a2a" stroke-width="1.2" />
<line x1="374.2" y1="409.6" x2="374.2" y2="435" stroke="#2a2a2a" stroke-width="1.2" />
<line x1="396.5" y1="409.6" x2="396.5" y2="435" stroke="#2a2a2a" stroke-width="1.2" />
<line x1="413.4" y1="409.5" x2="413.4" y2="434.7" stroke="#2a2a2a" stroke-width="1.4" />
<line x1="318.5" y1="419.5" x2="413.4" y2="419.4" stroke="#2a2a2a" stroke-width="1.1" />
<line x1="318.5" y1="427.1" x2="413.4" y2="427" stroke="#2a2a2a" stroke-width="1.3" />
<line x1="572.5" y1="408.6" x2="572.5" y2="433.4" stroke="#2a2a2a" stroke-width="1.3" />
<line x1="572.5" y1="417.3" x2="593.3" y2="417.3" stroke="#2a2a2a" stroke-width="1.2" />
<g transform="translate(319.20,434.29) scale(0.5130,0.8552) skewX(-14)"><text x="0" y="0"  font-size="10" font-weight="bold" font-style="italic" letter-spacing="1.0" fill="#111" stroke="#111" stroke-width="0.4">Изм</text></g>
<g transform="translate(332.26,434.29) scale(0.3500,0.8552) skewX(-14)"><text x="0" y="0"  font-size="10" font-weight="bold" font-style="italic" letter-spacing="1.0" fill="#111" stroke="#111" stroke-width="0.4">Лист</text></g>
<g transform="translate(344.00,433.07) scale(0.5493,0.6359) skewX(-14)"><text x="0" y="0"  font-size="10" font-weight="bold" font-style="italic" letter-spacing="1.0" fill="#111" stroke="#111" stroke-width="0.4">№ докум.</text></g>
<g transform="translate(374.80,434.30) scale(0.6625,0.8000) skewX(-14)"><text x="0" y="0"  font-size="10" font-weight="bold" font-style="italic" letter-spacing="1.0" fill="#111" stroke="#111" stroke-width="0.4">Подп.</text></g>
<g transform="translate(397.74,432.99) scale(0.4923,0.6703) skewX(-14)"><text x="0" y="0"  font-size="10" font-weight="bold" font-style="italic" letter-spacing="1.0" fill="#111" stroke="#111" stroke-width="0.4">Дата</text></g>
<g transform="translate(423.35,432.02) scale(0.7038,1.1355) skewX(-14)"><text x="0" y="0" dx="0.00 0.00 0.00 0.70 1.40 0.70 0.00 0.70 1.40 0.70 0.00 0.00 0.00 0.00 0.00 0.00 0.00 0.00 0.00 0.00 0.00 0.00 0.00 0.00 0.00 0.00 0.00 0.00 0.00 0.70" font-size="10" font-weight="normal" font-style="italic" letter-spacing="2.2" fill="#111" stroke="#111" stroke-width="0.25">3Л7llВФll.00.0.000.0.00-28 РЭl</text></g>
<g transform="translate(574.26,416.08) scale(0.6118,0.8690) skewX(-10)"><text x="0" y="0"  font-size="10" font-weight="normal" font-style="italic" letter-spacing="1.0" fill="#111" stroke="#111" stroke-width="0.3">Лист</text></g>
<g transform="translate(577.01,430.01) scale(0.9804,1.1448) skewX(-8)"><text x="0" y="0"  font-size="10" font-weight="normal" font-style="italic" letter-spacing="1.5" fill="#111" stroke="#111" stroke-width="0.15">39</text></g>
<g transform="translate(545.00,439.23) scale(0.5128,0.4324) skewX(-10)"><text x="0" y="0"  font-size="10" font-weight="normal" font-style="italic" letter-spacing="1.0" fill="#aaa" stroke="#aaa" stroke-width="0.4">Копировал</text></g>
<g transform="translate(580.35,437.88) scale(0.4667,0.4828) skewX(-10)"><text x="0" y="0"  font-size="10" font-weight="normal" font-style="italic" letter-spacing="1.0" fill="#bbb" stroke="#bbb" stroke-width="0.4">А4</text></g>
<line x1="599.5" y1="0" x2="599.5" y2="55" stroke="#9a9a9a" stroke-width="1.2" />
<line x1="599.5" y1="62" x2="599.5" y2="138" stroke="#a0a0a0" stroke-width="1.2" />
</svg>
</body></html>
